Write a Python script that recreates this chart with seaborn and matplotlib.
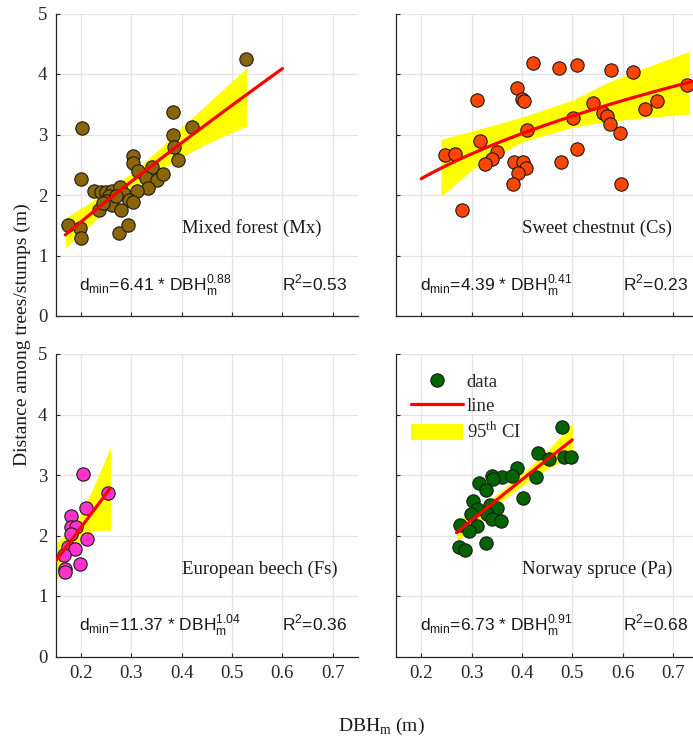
import numpy as np
import pandas as pd
import matplotlib
matplotlib.use("Agg")
import matplotlib.pyplot as plt
import seaborn as sns
from matplotlib.lines import Line2D
from matplotlib.patches import Patch

# ---------------- data ----------------
# Mixed forest (Mx)
mx_x = [0.528, 0.382, 0.203, 0.420, 0.382, 0.384, 0.392, 0.303, 0.303, 0.200,
        0.313, 0.342, 0.329, 0.352, 0.362, 0.334, 0.226, 0.240, 0.250, 0.262,
        0.277, 0.256, 0.286, 0.311, 0.250, 0.296, 0.304, 0.236, 0.262, 0.279,
        0.175, 0.198, 0.200, 0.276, 0.293, 0.270, 0.243]
mx_y = [4.24, 3.38, 3.10, 3.13, 2.99, 2.80, 2.58, 2.64, 2.53, 2.27,
        2.39, 2.47, 2.28, 2.25, 2.35, 2.12, 2.07, 2.05, 2.05, 2.06,
        2.13, 1.99, 2.02, 2.06, 1.90, 1.92, 1.89, 1.76, 1.84, 1.76,
        1.51, 1.46, 1.29, 1.37, 1.50, 1.98, 1.87]
mx_ci_x = [0.169, 0.20, 0.25, 0.30, 0.35, 0.40, 0.45, 0.529]
mx_ci_lo = [1.12, 1.36, 1.74, 2.08, 2.38, 2.62, 2.85, 3.14]
mx_ci_hi = [1.62, 1.78, 2.05, 2.36, 2.72, 3.12, 3.50, 4.10]

# Sweet chestnut (Cs)
cs_x = [0.422, 0.474, 0.510, 0.577, 0.620, 0.728, 0.390, 0.311, 0.400, 0.404,
        0.541, 0.669, 0.644, 0.561, 0.569, 0.574, 0.501, 0.594, 0.410, 0.316,
        0.248, 0.268, 0.351, 0.341, 0.326, 0.510, 0.385, 0.402, 0.409, 0.392,
        0.477, 0.383, 0.597, 0.281]
cs_y = [4.19, 4.10, 4.15, 4.06, 4.03, 3.82, 3.77, 3.57, 3.59, 3.56,
        3.52, 3.55, 3.42, 3.36, 3.31, 3.18, 3.27, 3.03, 3.08, 2.90,
        2.66, 2.67, 2.71, 2.60, 2.51, 2.76, 2.54, 2.54, 2.45, 2.36,
        2.54, 2.19, 2.18, 1.75]
cs_ci_x = [0.239, 0.302, 0.401, 0.501, 0.567, 0.633, 0.731]
cs_ci_lo = [1.98, 2.42, 2.88, 3.12, 3.21, 3.27, 3.34]
cs_ci_hi = [2.92, 3.06, 3.29, 3.57, 3.85, 4.07, 4.37]

# European beech (Fs)
fs_x = [0.204, 0.254, 0.211, 0.180, 0.181, 0.191, 0.180, 0.213, 0.175, 0.189,
        0.166, 0.199, 0.168, 0.169]
fs_y = [3.01, 2.70, 2.46, 2.32, 2.14, 2.14, 2.03, 1.95, 1.81, 1.77,
        1.68, 1.53, 1.45, 1.39]
fs_ci_x = [0.150, 0.175, 0.200, 0.225, 0.259]
fs_ci_lo = [1.24, 1.62, 1.92, 2.08, 2.09]
fs_ci_hi = [1.87, 2.06, 2.36, 2.80, 3.46]

# Norway spruce (Pa)
pa_x = [0.480, 0.432, 0.454, 0.483, 0.498, 0.391, 0.428, 0.341, 0.361, 0.381,
        0.342, 0.315, 0.328, 0.403, 0.303, 0.336, 0.351, 0.311, 0.299, 0.331,
        0.341, 0.359, 0.277, 0.311, 0.294, 0.329, 0.276, 0.286]
pa_y = [3.80, 3.37, 3.27, 3.30, 3.30, 3.12, 2.97, 2.99, 2.97, 2.98,
        2.93, 2.87, 2.75, 2.62, 2.57, 2.51, 2.46, 2.43, 2.35, 2.35,
        2.27, 2.24, 2.17, 2.15, 2.07, 1.87, 1.81, 1.76]
pa_ci_x = [0.27, 0.30, 0.35, 0.40, 0.45, 0.50]
pa_ci_lo = [1.88, 2.12, 2.50, 2.82, 3.10, 3.31]
pa_ci_hi = [2.25, 2.38, 2.68, 3.02, 3.40, 3.85]

# fitted power models d = a * DBH^b (as printed on chart) and fitted ranges
fit_a = [6.41, 4.39, 11.37, 6.73]
fit_b = [0.88, 0.41, 1.04, 0.91]
fit_r2 = ["0.53", "0.23", "0.36", "0.68"]
fit_xmin = [0.169, 0.20, 0.150, 0.27]
fit_xmax = [0.600, 0.75, 0.257, 0.50]

names = ["Mixed forest (Mx)", "Sweet chestnut (Cs)", "European beech (Fs)", "Norway spruce (Pa)"]
colors = ["#8B6508", "#FF4500", "#FF33CC", "#006400"]
xticks = [0.2, 0.3, 0.4, 0.5, 0.6, 0.7]
yticks = [0, 1, 2, 3, 4, 5]

# ---------------- style ----------------
sns.set_style("white")
plt.rcParams["font.family"] = ["Liberation Serif", "DejaVu Serif"]
plt.rcParams["mathtext.fontset"] = "custom"
plt.rcParams["mathtext.rm"] = "Liberation Serif"

W, H = 693, 743
fig = plt.figure(figsize=(W / 100, H / 100), dpi=100)

def fx(px):
    return px / W

def fy(py):
    return 1 - py / H

aw = (358 - 55.7) / W
ah = (316 - 13.5) / H
positions = [
    [fx(55.7), fy(316), aw, ah],
    [fx(396), fy(316), aw, ah],
    [fx(55.7), fy(656.5), aw, ah],
    [fx(396), fy(656.5), aw, ah],
]

datasets = [
    (mx_x, mx_y, mx_ci_x, mx_ci_lo, mx_ci_hi),
    (cs_x, cs_y, cs_ci_x, cs_ci_lo, cs_ci_hi),
    (fs_x, fs_y, fs_ci_x, fs_ci_lo, fs_ci_hi),
    (pa_x, pa_y, pa_ci_x, pa_ci_lo, pa_ci_hi),
]

axis_col = "#262626"
tick_fs = 13.5

for i, (pos, ds) in enumerate(zip(positions, datasets)):
    ax = fig.add_axes(pos)
    px_, py_, cx, clo, chi = ds
    ax.fill_between(cx, clo, chi, color="#FFFF00", lw=0, zorder=1)
    df = pd.DataFrame({"x": px_, "y": py_})
    sns.scatterplot(data=df, x="x", y="y", ax=ax, color=colors[i], s=92,
                    edgecolor="#1a1a1a", linewidth=0.8, zorder=3, legend=False)
    xs = np.linspace(fit_xmin[i], fit_xmax[i], 60)
    fit_df = pd.DataFrame({"x": xs, "y": fit_a[i] * xs ** fit_b[i]})
    sns.lineplot(data=fit_df, x="x", y="y", ax=ax, color="#FF0000", lw=2.3,
                 zorder=4, legend=False)

    ax.set_xlim(0.15, 0.75)
    ax.set_ylim(0, 5)
    ax.set_xticks(xticks)
    ax.set_yticks(yticks)
    ax.set_xlabel("")
    ax.set_ylabel("")
    ax.grid(True, color="#E3E3E3", lw=0.9)
    ax.set_axisbelow(True)
    for s in ["top", "right"]:
        ax.spines[s].set_visible(False)
    for s in ["left", "bottom"]:
        ax.spines[s].set_color(axis_col)
        ax.spines[s].set_linewidth(0.9)
    ax.tick_params(direction="in", length=3, width=0.8, colors=axis_col,
                   labelsize=tick_fs, pad=6, left=True, bottom=True)
    if i in (0, 1):
        ax.set_xticklabels([])
    else:
        ax.set_xticklabels(["0.2", "0.3", "0.4", "0.5", "0.6", "0.7"])
    if i in (1, 3):
        ax.set_yticklabels([])
    else:
        ax.set_yticklabels([str(v) for v in yticks])
    for lab in ax.get_xticklabels() + ax.get_yticklabels():
        lab.set_color("#262626")

    ax.text(0.40, 1.37, names[i], fontsize=13.5, ha="left", va="baseline",
            color="#1a1a1a")
    ax.text(0.197, 0.43,
            r"d$_{\mathregular{min}}$=%.2f * DBH$_{\mathregular{m}}^{\mathregular{%.2f}}$" % (fit_a[i], fit_b[i]),
            fontsize=12.5, family=["Liberation Sans", "DejaVu Sans"],
            ha="left", va="baseline", color="#1a1a1a")
    ax.text(0.60, 0.43, r"R$^{\mathregular{2}}$=" + fit_r2[i],
            fontsize=12.5, family=["Liberation Sans", "DejaVu Sans"],
            ha="left", va="baseline", color="#1a1a1a")

    if i == 3:
        handles = [
            Line2D([], [], marker="o", ls="none", markerfacecolor=colors[3],
                   markeredgecolor="#1a1a1a", markersize=9.6, markeredgewidth=0.8),
            Line2D([], [], color="#FF0000", lw=2.3),
            Patch(facecolor="#FFFF00", edgecolor="none"),
        ]
        ax.legend(handles, ["data", "line", r"95$^{\mathregular{th}}$ CI"],
                  loc="upper left", bbox_to_anchor=(0.025, 0.962), frameon=False,
                  fontsize=13.5, handlelength=2.75, handleheight=0.9,
                  labelspacing=0.32, handletextpad=0.22, borderaxespad=0)

fig.text(0.032, 0.549, "Distance among trees/stumps (m)", rotation=90,
         ha="center", va="center", fontsize=14, color="#1a1a1a")
fig.text(0.551, 0.016, r"DBH$_{\mathregular{m}}$ (m)", ha="center",
         va="baseline", fontsize=14, color="#1a1a1a")

fig.savefig("out.png", dpi=100)
